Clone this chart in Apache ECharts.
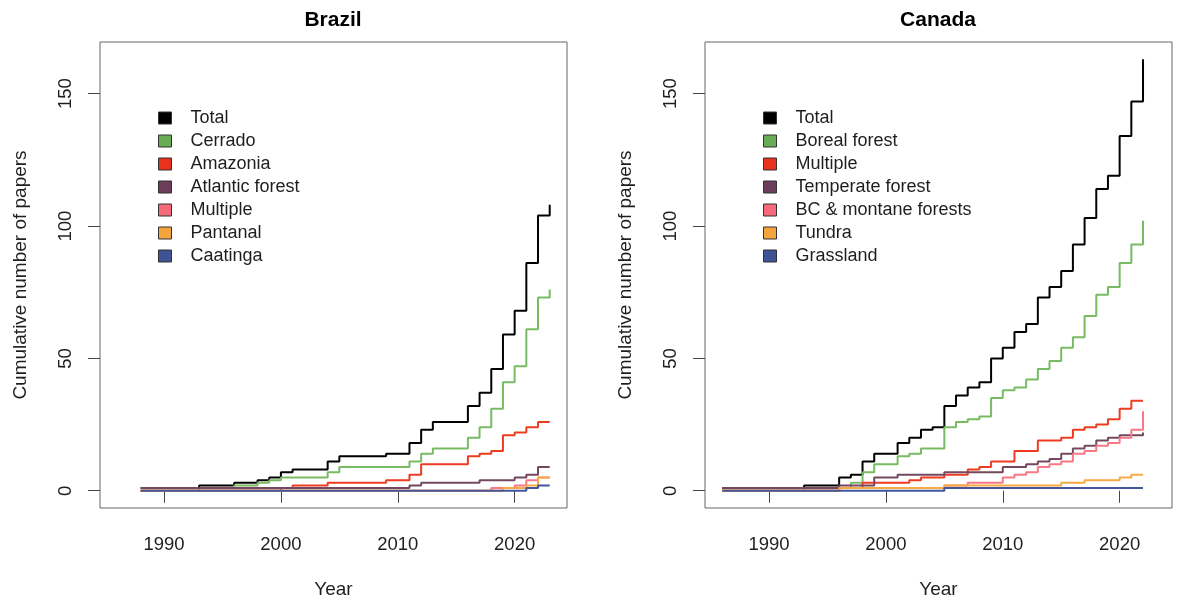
<!DOCTYPE html>
<html>
<head>
<meta charset="utf-8">
<script src="https://cdn.jsdelivr.net/npm/echarts@6/dist/echarts.min.js"></script>
<style>
  html, body { margin: 0; padding: 0; background: #fff; }
  #wrap { position: relative; width: 1177px; height: 604px; }
  #brazil { position: absolute; left: 0; top: 0; width: 605px; height: 604px; }
  #canada { position: absolute; left: 605px; top: 0; width: 572px; height: 604px; }
</style>
</head>
<body>
<div id="wrap">
  <div id="brazil"></div>
  <div id="canada"></div>
</div>
<script>
// tick labels shared by both panels
const xTicks = [1990, 2000, 2010, 2020]
const yTicks = [0, 50, 100, 150]

// Brazil, cumulative papers per year
const brYears = [1988, 1989, 1990, 1991, 1992, 1993, 1994, 1995, 1996, 1997, 1998, 1999,
  2000, 2001, 2002, 2003, 2004, 2005, 2006, 2007, 2008, 2009, 2010, 2011,
  2012, 2013, 2014, 2015, 2016, 2017, 2018, 2019, 2020, 2021, 2022, 2023]
const brTotal = [1, 1, 1, 1, 1, 2, 2, 2, 3, 3, 4, 5, 7, 8, 8, 8, 11, 13, 13, 13, 13, 14, 14, 18,
  23, 26, 26, 26, 32, 37, 46, 59, 68, 86, 104, 108]
const brCerrado = [0, 0, 0, 0, 0, 1, 1, 1, 2, 2, 3, 4, 5, 5, 5, 5, 7, 9, 9, 9, 9, 9, 9, 11,
  14, 16, 16, 16, 20, 24, 31, 41, 47, 61, 73, 76]
const brAmazonia = [0, 0, 0, 0, 0, 0, 0, 0, 0, 0, 0, 0, 1, 2, 2, 2, 3, 3, 3, 3, 3, 4, 4, 6,
  10, 10, 10, 10, 13, 14, 15, 21, 22, 24, 26, 26]
const brAtlantic = [1, 1, 1, 1, 1, 1, 1, 1, 1, 1, 1, 1, 1, 1, 1, 1, 1, 1, 1, 1, 1, 1, 1, 2,
  3, 3, 3, 3, 3, 4, 4, 4, 5, 6, 9, 9]
const brMultiple = [0, 0, 0, 0, 0, 0, 0, 0, 0, 0, 0, 0, 0, 0, 0, 0, 0, 0, 0, 0, 0, 0, 0, 0,
  0, 0, 0, 0, 0, 0, 1, 1, 2, 4, 5, 5]
const brPantanal = [0, 0, 0, 0, 0, 0, 0, 0, 0, 0, 0, 0, 0, 0, 0, 0, 0, 0, 0, 0, 0, 0, 0, 0,
  0, 0, 0, 0, 0, 0, 0, 1, 1, 2, 5, 5]
const brCaatinga = [0, 0, 0, 0, 0, 0, 0, 0, 0, 0, 0, 0, 0, 0, 0, 0, 0, 0, 0, 0, 0, 0, 0, 0,
  0, 0, 0, 0, 0, 0, 0, 0, 0, 1, 2, 2]

// Canada, cumulative papers per year
const caYears = [1986, 1987, 1988, 1989, 1990, 1991, 1992, 1993, 1994, 1995, 1996, 1997,
  1998, 1999, 2000, 2001, 2002, 2003, 2004, 2005, 2006, 2007, 2008, 2009, 2010,
  2011, 2012, 2013, 2014, 2015, 2016, 2017, 2018, 2019, 2020, 2021, 2022]
const caTotal = [1, 1, 1, 1, 1, 1, 1, 2, 2, 2, 5, 6, 11, 14, 14, 18, 20, 23, 24, 32, 36, 39, 41,
  50, 54, 60, 63, 73, 77, 83, 93, 103, 114, 119, 134, 147, 163]
const caBoreal = [0, 0, 0, 0, 0, 0, 0, 1, 1, 1, 1, 3, 7, 10, 10, 13, 14, 16, 16, 24, 26, 27, 28,
  35, 38, 39, 42, 46, 49, 54, 58, 66, 74, 77, 86, 93, 102]
const caMultiple = [0, 0, 0, 0, 0, 0, 0, 0, 0, 0, 1, 1, 3, 3, 3, 3, 4, 5, 5, 6, 6, 8, 9,
  11, 11, 15, 15, 19, 19, 20, 23, 24, 25, 27, 31, 34, 34]
const caTemperate = [1, 1, 1, 1, 1, 1, 1, 1, 1, 1, 2, 2, 2, 5, 5, 6, 6, 6, 6, 7, 7, 7, 7,
  7, 9, 9, 10, 11, 12, 14, 16, 17, 19, 20, 21, 21, 22]
const caBC = [0, 0, 0, 0, 0, 0, 0, 0, 0, 0, 1, 1, 1, 1, 1, 1, 1, 1, 1, 2, 2, 3, 3,
  3, 5, 6, 7, 9, 10, 11, 14, 15, 17, 18, 20, 23, 30]
const caTundra = [0, 0, 0, 0, 0, 0, 0, 0, 0, 0, 1, 1, 1, 1, 1, 1, 1, 1, 1, 2, 2, 2, 2,
  2, 2, 2, 2, 2, 2, 3, 3, 4, 4, 4, 5, 6, 6]
const caGrassland = [0, 0, 0, 0, 0, 0, 0, 0, 0, 0, 0, 0, 0, 0, 0, 0, 0, 0, 0, 1, 1, 1, 1,
  1, 1, 1, 1, 1, 1, 1, 1, 1, 1, 1, 1, 1, 1]

const FONT = '"Liberation Sans", Arial, Helvetica, sans-serif'
const TXT = '#1e1e1e'

const makeOption = (title, years, groups) => {
  const series = groups.map((g) => ({
    name: g.name,
    type: 'line',
    step: 'end', // same as R type = "s"
    showSymbol: false,
    color: g.color,
    lineStyle: { width: 2, color: g.line || g.color },
    data: years.map((y, i) => [y, g.values[i]])
  }))
  return {
    animation: false,
    textStyle: { fontFamily: FONT },
    graphic: [
      {
        type: 'text',
        x: 333,
        y: 20,
        style: {
          text: title,
          fill: '#000',
          font: 'bold 21px ' + FONT,
          textAlign: 'center',
          textVerticalAlign: 'middle'
        }
      }
    ],
    grid: {
      left: 100,
      top: 42,
      width: 467,
      height: 467,
      show: true,
      borderColor: '#666',
      borderWidth: 1
    },
    legend: {
      orient: 'vertical',
      left: 158,
      top: 109,
      padding: 0,
      icon: 'rect',
      itemWidth: 13,
      itemHeight: 12,
      itemGap: 5,
      selectedMode: false,
      itemStyle: { borderColor: '#333', borderWidth: 1 },
      textStyle: {
        fontSize: 18,
        lineHeight: 18,
        color: TXT,
        fontFamily: FONT,
        padding: [0, 0, 0, 14]
      },
      data: groups.map((g) => g.name)
    },
    xAxis: {
      type: 'value',
      min: 1984.52,
      max: 2024.48,
      name: 'Year',
      nameLocation: 'middle',
      nameGap: 72,
      nameTextStyle: { fontSize: 19, color: TXT },
      axisLine: { show: false },
      splitLine: { show: false },
      axisTick: { show: true, length: 12, lineStyle: { color: '#444' }, customValues: xTicks },
      axisLabel: {
        customValues: xTicks,
        formatter: (v) => String(v),
        fontSize: 18.5,
        color: TXT,
        margin: 27
      }
    },
    yAxis: {
      type: 'value',
      min: -6.52,
      max: 169.52,
      name: 'Cumulative number of papers',
      nameLocation: 'middle',
      nameGap: 70,
      nameTextStyle: { fontSize: 19, color: TXT },
      axisLine: { show: false },
      splitLine: { show: false },
      axisTick: { show: true, length: 12, lineStyle: { color: '#444' }, customValues: yTicks },
      axisLabel: {
        customValues: yTicks,
        formatter: (v) => String(v),
        fontSize: 18.5,
        color: TXT,
        margin: 25,
        rotate: 90
      }
    },
    series: series
  }
}

const GREEN = '#6aab55', RED = '#e8321c', PURPLE = '#6b3d5b'
const PINK = '#f56a7b', ORANGE = '#f5a33c', BLUE = '#3f5294'

const brazilChart = echarts.init(document.getElementById('brazil'))
brazilChart.setOption(makeOption('Brazil', brYears, [
  { name: 'Total', values: brTotal, color: '#000' },
  { name: 'Cerrado', values: brCerrado, color: GREEN, line: '#78bb63' },
  { name: 'Amazonia', values: brAmazonia, color: RED, line: '#ee3c22' },
  { name: 'Atlantic forest', values: brAtlantic, color: PURPLE, line: '#74485f' },
  { name: 'Multiple', values: brMultiple, color: PINK, line: '#f87884' },
  { name: 'Pantanal', values: brPantanal, color: ORANGE, line: '#f7a944' },
  { name: 'Caatinga', values: brCaatinga, color: BLUE, line: '#44579a' }
]))

const canadaChart = echarts.init(document.getElementById('canada'))
canadaChart.setOption(makeOption('Canada', caYears, [
  { name: 'Total', values: caTotal, color: '#000' },
  { name: 'Boreal forest', values: caBoreal, color: GREEN, line: '#78bb63' },
  { name: 'Multiple', values: caMultiple, color: RED, line: '#ee3c22' },
  { name: 'Temperate forest', values: caTemperate, color: PURPLE, line: '#74485f' },
  { name: 'BC & montane forests', values: caBC, color: PINK, line: '#f87884' },
  { name: 'Tundra', values: caTundra, color: ORANGE, line: '#f7a944' },
  { name: 'Grassland', values: caGrassland, color: BLUE, line: '#44579a' }
]))
</script>
</body>
</html>
